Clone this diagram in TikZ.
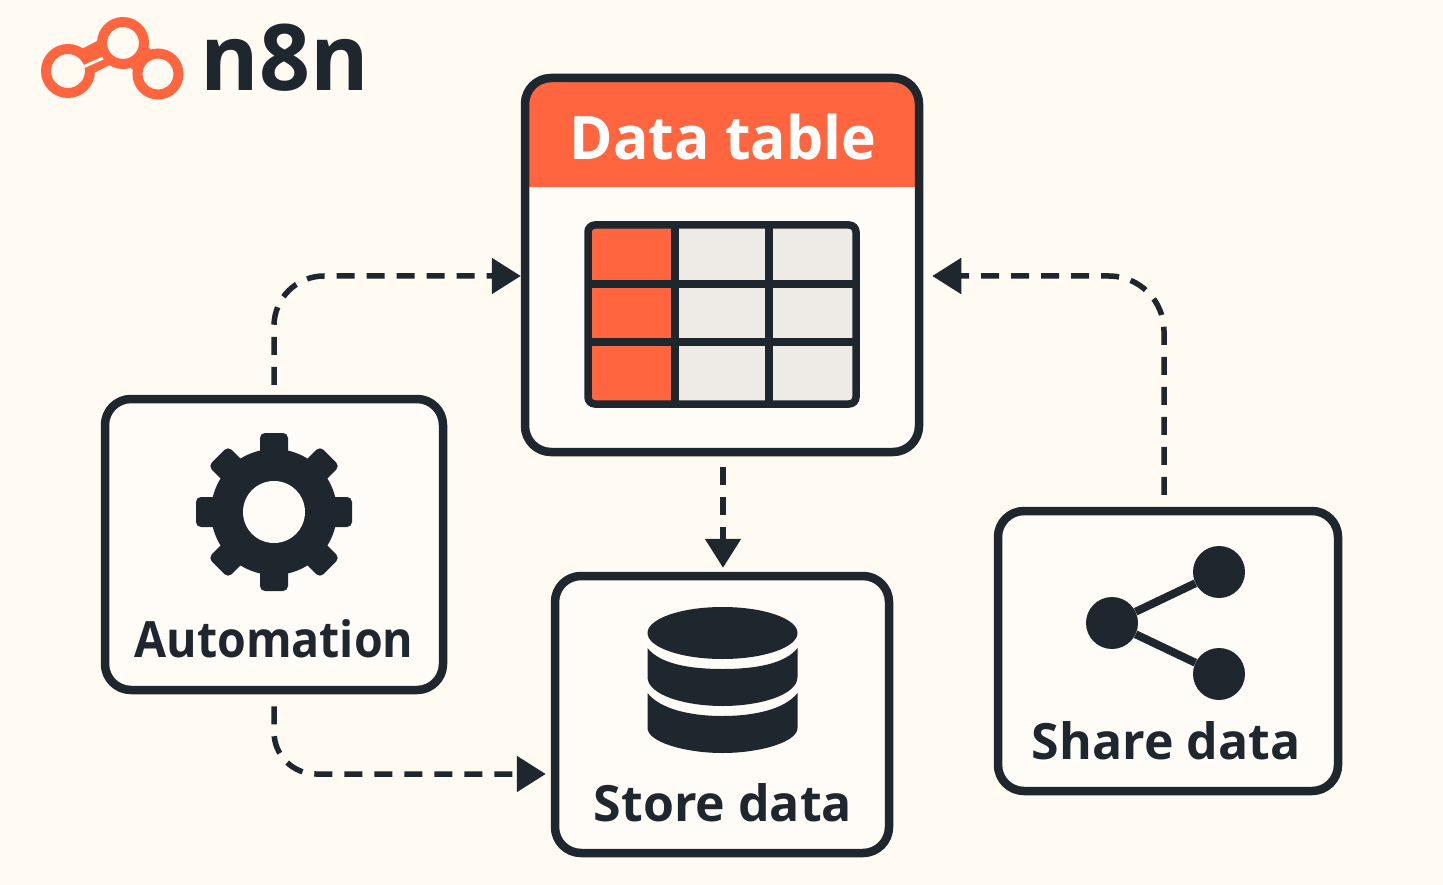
\documentclass[tikz,border=0pt]{standalone}
\usepackage{fontspec}
\setmainfont{Open Sans}
\usetikzlibrary{positioning, arrows.meta, calc, shapes.geometric}
\definecolor{clrpage}{HTML}{FFFAF2}
\definecolor{clrbox}{HTML}{FFFCF8}
\definecolor{clrorange}{HTML}{FF6640}
\definecolor{clrdark}{HTML}{1E272E}
\definecolor{clrcell}{HTML}{EEEAE6}

\begin{document}
\begin{tikzpicture}[
    x=1pt, y=-1pt,
    every node/.style={inner sep=0pt},
    box/.style={draw=clrdark, fill=clrbox, rounded corners=26pt, line width=8.5pt},
    flow/.style={-{Triangle[length=29pt, width=35pt]}, draw=clrdark, line width=5.5pt,
                 dash pattern=on 18pt off 12pt},
    boxlabel/.style={font=\fontsize{50}{50}\selectfont\bfseries, text=clrdark},
    tooth/.style={fill=clrdark, rounded corners=5pt, minimum width=28pt, minimum height=30pt},
    dot/.style={circle, fill=clrdark, minimum size=52pt},
    ring/.style={draw=clrorange, fill=clrpage, line width=10pt, circle},
    cell/.style={fill=clrcell, minimum width=90pt, minimum height=60pt},
    redcell/.style={fill=clrorange, minimum width=84pt, minimum height=60pt},
    gridline/.style={draw=clrdark, line width=7.5pt},
]
\useasboundingbox (0,0) rectangle (1443,885);
\fill[clrpage] (0,0) rectangle (1443,885);
% logo
\coordinate (n_logo_left) at (68,71);
\coordinate (n_logo_top) at (123,43);
\coordinate (n_logo_right) at (158,74);
\draw[clrorange, line width=27pt] (n_logo_left) -- (n_logo_top);
\draw[clrorange, line width=27pt] (n_logo_top) -- (n_logo_right);
\node[ring, minimum size=44pt] (n_ring_1) at (n_logo_left) {};
\node[ring, minimum size=42pt] (n_ring_2) at (n_logo_top) {};
\node[ring, minimum size=41pt] (n_ring_3) at (n_logo_right) {};
\draw[clrpage, line width=3pt] (83,67) -- (103,58);
\node[font=\fontsize{92}{92}\selectfont\bfseries, text=clrdark, xscale=0.97] (n_logo_text) at (285,58) {n8n};
% boxes
\node[box, minimum width=394pt, minimum height=374pt,
      path picture={\fill[clrorange, sharp corners] (path picture bounding box.north west) rectangle ([yshift=-109pt]path picture bounding box.north east);}]
      (n_table) at (722,265) {};
\node[box, minimum width=338pt, minimum height=291pt] (n_auto) at (274,544.5) {};
\node[box, minimum width=334pt, minimum height=277pt] (n_store) at (722,714.5) {};
\node[box, minimum width=340pt, minimum height=280pt] (n_share) at (1168,651) {};
\node[font=\fontsize{60}{60}\selectfont\bfseries, text=white, xscale=0.98] (n_table_text) at (723,137) {Data table};
\node[boxlabel, xscale=0.93] (n_auto_text) at (274,639) {Automation};
\node[boxlabel] (n_store_text) at (723,803) {Store data};
\node[boxlabel] (n_share_text) at (1166,741) {Share data};
% table icon
\node[redcell] (n_c_1) at (631,257) {};
\node[redcell] (n_c_2) at (631,314) {};
\node[redcell] (n_c_3) at (631,372) {};
\node[cell] (n_c_4) at (722,257) {};
\node[cell] (n_c_5) at (722,314) {};
\node[cell] (n_c_6) at (722,372) {};
\node[cell] (n_c_7) at (813,257) {};
\node[cell] (n_c_8) at (813,314) {};
\node[cell] (n_c_9) at (813,372) {};
\draw[gridline] (675,225) -- (675,404);
\draw[gridline] (769,225) -- (769,404);
\draw[gridline] (588,284) -- (856,284);
\draw[gridline] (588,342) -- (856,342);
\draw[gridline, rounded corners=7pt] (588,225) rectangle (856,404);
% gear icon
\node[circle, fill=clrdark, minimum size=126pt] (n_gear) at (274,512) {};
\node[tooth] (n_tooth_1) at ([shift={(0:64)}]n_gear.center) {};
\node[tooth, rotate=45] (n_tooth_2) at ([shift={(45:64)}]n_gear.center) {};
\node[tooth] (n_tooth_3) at ([shift={(90:64)}]n_gear.center) {};
\node[tooth, rotate=-45] (n_tooth_4) at ([shift={(135:64)}]n_gear.center) {};
\node[tooth] (n_tooth_5) at ([shift={(180:64)}]n_gear.center) {};
\node[tooth, rotate=45] (n_tooth_6) at ([shift={(225:64)}]n_gear.center) {};
\node[tooth] (n_tooth_7) at ([shift={(270:64)}]n_gear.center) {};
\node[tooth, rotate=-45] (n_tooth_8) at ([shift={(315:64)}]n_gear.center) {};
\node[circle, fill=clrbox, minimum size=62pt] (n_gear_hole) at (n_gear.center) {};
% database icon
\node[ellipse, fill=clrdark, minimum width=150pt, minimum height=52pt] (n_disk) at (722.5,633) {};
\fill[clrdark] (647.5,648) .. controls (660,664) and (690,669) .. (722.5,669) .. controls (755,669) and (785,664) .. (797.5,648)
    -- (797.5,677) .. controls (797.5,695) and (760,706) .. (722.5,706) .. controls (685,706) and (647.5,695) .. (647.5,677) -- cycle;
\fill[clrdark] (647.5,693) .. controls (660,709) and (690,716) .. (722.5,716) .. controls (755,716) and (785,709) .. (797.5,693)
    -- (797.5,728) .. controls (797.5,742) and (760,753) .. (722.5,753) .. controls (685,753) and (647.5,742) .. (647.5,728) -- cycle;
% share icon
\node[dot] (n_dot_1) at (1219,572) {};
\node[dot] (n_dot_2) at (1112,623) {};
\node[dot] (n_dot_3) at (1219,674) {};
\draw[clrdark, line width=8pt] (n_dot_1) -- (n_dot_2);
\draw[clrdark, line width=8pt] (n_dot_2) -- (n_dot_3);
% connectors
\draw[flow, rounded corners=50pt, shorten <=10pt] (n_auto.north) |- ([yshift=-11pt]n_table.west);
\draw[flow, rounded corners=55pt, shorten <=12pt, shorten >=9pt] ([xshift=-4pt]n_share.north) |- ([yshift=-11pt]n_table.east);
\draw[flow, shorten <=11pt, shorten >=4pt] ([xshift=1pt]n_table.south) -- ([xshift=1pt]n_store.north);
\draw[flow, rounded corners=42pt, shorten <=12pt, shorten >=5pt] (n_auto.south) |- ([yshift=-59.5pt]n_store.west);
\end{tikzpicture}
\end{document}
